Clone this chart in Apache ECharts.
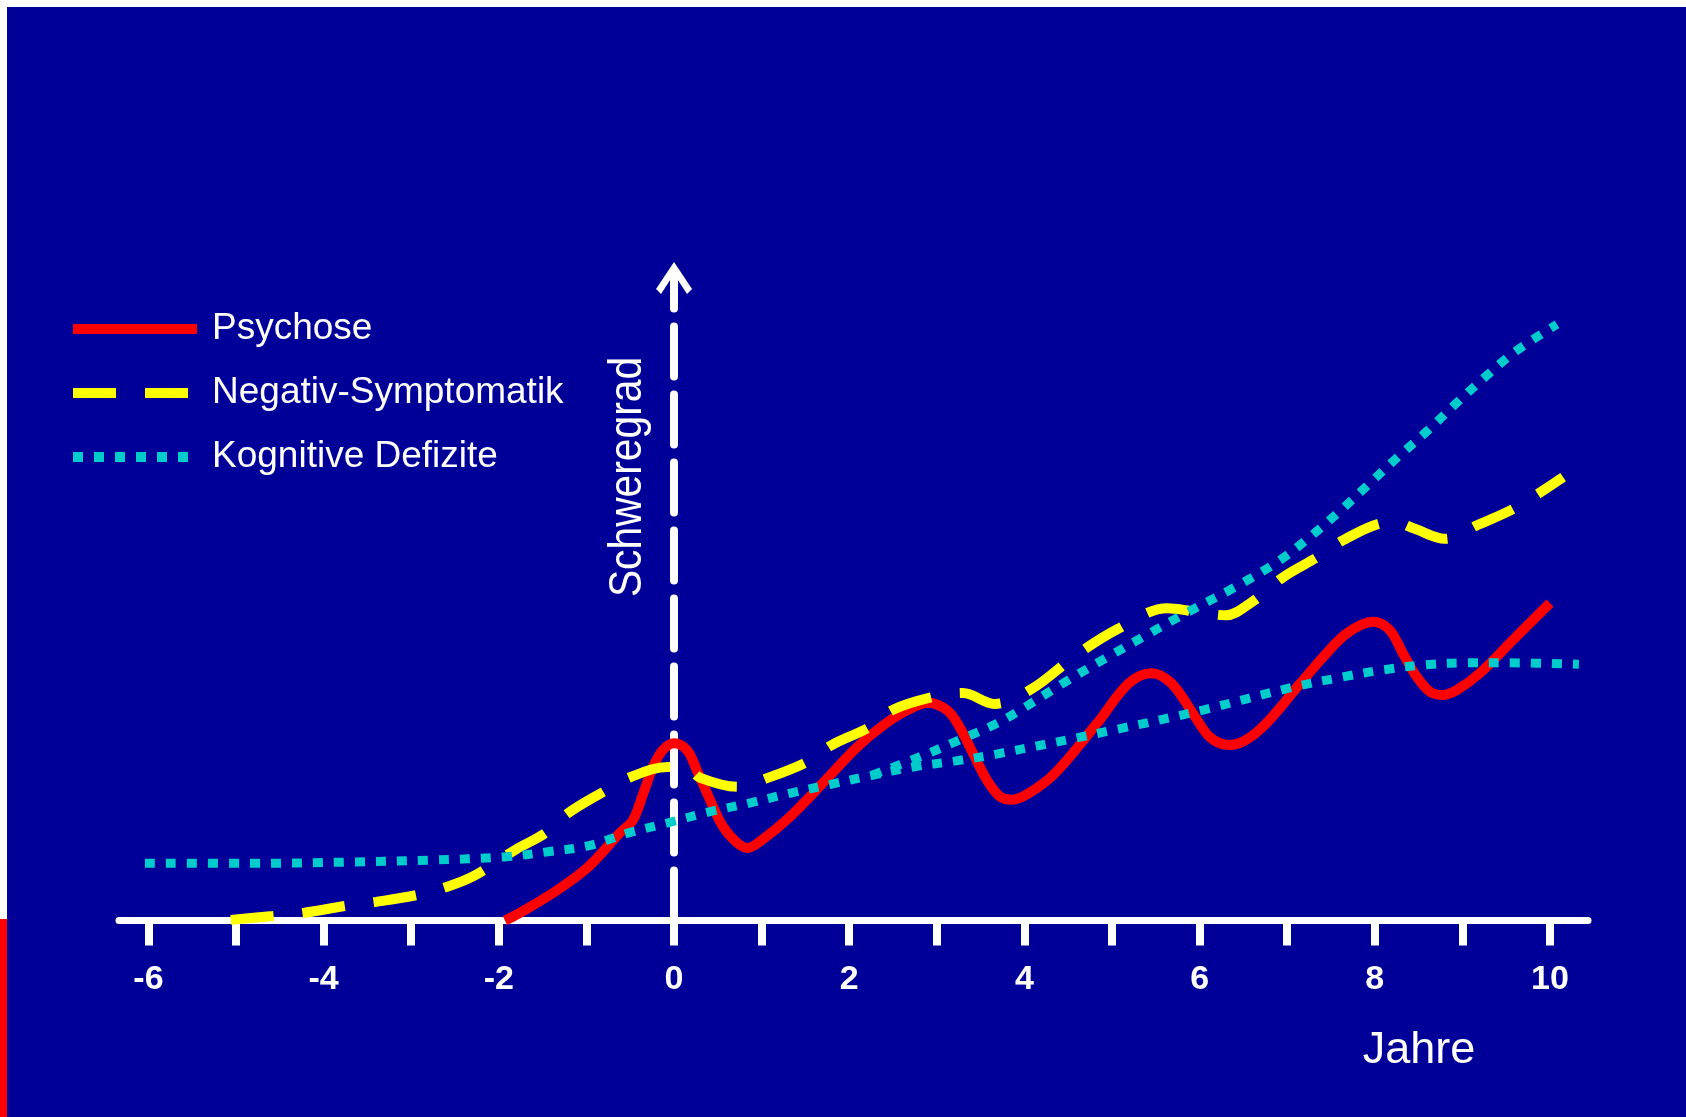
<!DOCTYPE html>
<html>
<head>
<meta charset="utf-8">
<script src="https://cdn.jsdelivr.net/npm/echarts@6/dist/echarts.min.js"></script>
<style>
  html, body { margin: 0; padding: 0; background: #ffffff; }
  #chart { width: 1686px; height: 1117px; }
</style>
</head>
<body>
<div id="chart"></div>
<script>
// Jahre relativ zum Beginn der ersten Psychose
const tickYears = [-6, -5, -4, -3, -2, -1, 0, 1, 2, 3, 4, 5, 6, 7, 8, 9, 10];
const labelYears = [-6, -4, -2, 0, 2, 4, 6, 8, 10];

// Schweregrad (relative Einheiten 0–100) über die Jahre
const psychose = [
  [-1.93, 0], [-1.76, 1.2], [-1.38, 4.3], [-0.99, 8.2], [-0.62, 13.6], [-0.47, 15.6],
  [-0.35, 19.8], [-0.24, 23.9], [-0.13, 26.5], [0, 27.6], [0.15, 26.5], [0.26, 23.4],
  [0.41, 18.8], [0.56, 14.6], [0.72, 12.1], [0.84, 11.3], [1.0, 12.5], [1.32, 16.1],
  [1.70, 21.4], [2.09, 27.0], [2.39, 30.4], [2.66, 32.7], [2.90, 33.9], [3.12, 32.7],
  [3.26, 30.1], [3.41, 26.1], [3.57, 21.9], [3.72, 19.3], [3.86, 18.8], [4.05, 19.8],
  [4.34, 22.8], [4.83, 30.7], [5.19, 36.9], [5.45, 38.5], [5.68, 36.9], [5.94, 31.9],
  [6.12, 28.5], [6.34, 27.3], [6.67, 29.5], [7.15, 36.9], [7.41, 41.0], [7.68, 44.7],
  [7.98, 46.5], [8.17, 45.2], [8.32, 41.6], [8.48, 37.9], [8.63, 35.6], [8.77, 35.1],
  [8.94, 35.9], [9.20, 38.5], [9.58, 43.7], [10.0, 49.4]
];

const negativSymptomatik = [
  [-5.06, 0.1], [-4.58, 0.7], [-4.22, 1.2], [-3.74, 2.3], [-3.40, 2.9], [-2.92, 4.0],
  [-2.60, 5.2], [-2.29, 6.9], [-1.80, 11.1], [-1.47, 13.6], [-1.21, 16.7], [-0.81, 20.0],
  [-0.50, 22.3], [-0.07, 23.9], [0.13, 23.9], [0.30, 22.2], [0.73, 20.8], [1.07, 22.2],
  [1.52, 24.7], [1.80, 27.3], [2.23, 30.1], [2.50, 32.8], [2.96, 34.8], [3.30, 35.4],
  [3.66, 33.7], [4.09, 36.1], [4.58, 41.2], [5.07, 45.4], [5.63, 48.6], [5.94, 48.1],
  [6.30, 47.5], [6.58, 49.4], [6.96, 53.5], [7.35, 56.6], [7.64, 59.2], [8.06, 61.8],
  [8.23, 62.0], [8.45, 61.0], [8.80, 59.4], [9.18, 61.6], [9.60, 64.2], [10.15, 69.0]
];

// Kognitive Defizite: gemeinsamer Verlauf, ab ca. 2 Jahren zwei Verläufe
const kognitivFlach = [
  [-6.04, 8.9], [-4.84, 8.9], [-3.70, 9.1], [-2.79, 9.4], [-1.93, 9.9], [-1.44, 10.7],
  [-0.98, 11.6], [-0.53, 13.6], [-0.07, 15.2], [0.40, 16.9], [0.87, 18.3], [1.32, 19.8],
  [1.79, 21.2], [2.26, 22.6], [2.73, 23.9], [3.20, 24.8], [3.68, 25.9], [5.07, 29.8],
  [6.05, 32.8], [7.03, 36.2], [7.63, 37.9], [8.09, 39.0], [8.57, 39.8], [9.05, 40.1],
  [9.52, 40.1], [10.33, 39.9]
];

const kognitivSteil = [
  [2.26, 22.6], [2.83, 25.6], [3.26, 28.1], [3.69, 30.7], [3.96, 32.8], [4.45, 37.0],
  [4.95, 41.0], [5.43, 44.7], [5.81, 47.6], [6.42, 52.0], [6.92, 56.1], [7.26, 59.7],
  [7.60, 63.7], [7.93, 67.9], [8.26, 72.1], [8.60, 76.2], [8.93, 80.5], [9.26, 84.6],
  [9.61, 88.6], [10.08, 92.8]
];

const BLUE = '#000099';
const RED = '#ff0000';
const YELLOW = '#ffff00';
const CYAN = '#00cccc';
const WHITE = '#ffffff';
const FONT = '"Liberation Sans", Arial, Helvetica, sans-serif';

const yellowDash = [43, 29];
const cyanDots = [10, 11];

const chart = echarts.init(document.getElementById('chart'), null, { renderer: 'canvas' });

chart.setOption({
  backgroundColor: BLUE,
  animation: false,
  textStyle: { fontFamily: FONT },
  grid: {
    left: 119,
    right: 98,
    top: 278,
    bottom: 196.5,
    containLabel: false,
    outerBoundsMode: 'none'
  },
  legend: {
    orient: 'vertical',
    left: 68,
    top: 310,
    padding: 0,
    itemWidth: 124,
    itemHeight: 10,
    itemGap: 26,
    selectedMode: false,
    textStyle: {
      color: WHITE,
      fontSize: 37,
      lineHeight: 38,
      fontFamily: FONT,
      padding: [0, 0, 0, 10]
    },
    data: [
      { name: 'Psychose', itemStyle: { opacity: 0 },
        lineStyle: { color: RED, width: 10, type: 'solid' } },
      { name: 'Negativ-Symptomatik', itemStyle: { opacity: 0 },
        lineStyle: { color: YELLOW, width: 10, type: yellowDash } },
      { name: 'Kognitive Defizite', itemStyle: { opacity: 0 },
        lineStyle: { color: CYAN, width: 10, type: cyanDots } }
    ]
  },
  xAxis: {
    type: 'value',
    min: -6.336,
    max: 10.434,
    axisLine: {
      show: true,
      onZero: false,
      lineStyle: { color: WHITE, width: 7 }
    },
    axisTick: {
      show: true,
      customValues: tickYears,
      length: 25,
      lineStyle: { color: WHITE, width: 8 }
    },
    axisLabel: {
      show: true,
      customValues: labelYears,
      margin: 42,
      color: WHITE,
      fontSize: 34,
      fontWeight: 'bold',
      fontFamily: FONT
    },
    splitLine: { show: false }
  },
  yAxis: {
    type: 'value',
    min: 0,
    max: 100,
    axisLine: {
      show: true,
      onZero: true,
      symbol: ['none', 'path://M18,0 L36,27 L31,32 L18,12 L5,32 L0,27 Z'],
      symbolSize: [36, 32],
      lineStyle: { color: WHITE, width: 8, type: [50, 18] }
    },
    axisTick: { show: false },
    axisLabel: { show: false },
    splitLine: { show: false }
  },
  graphic: [
    { type: 'rect', left: 0, top: 0, z: 100, silent: true,
      shape: { width: 1686, height: 7 }, style: { fill: WHITE } },
    { type: 'rect', left: 0, top: 0, z: 100, silent: true,
      shape: { width: 7, height: 919 }, style: { fill: WHITE } },
    { type: 'rect', left: 0, top: 919, z: 100, silent: true,
      shape: { width: 7, height: 198 }, style: { fill: RED } },
    { type: 'text', x: 628, y: 477, rotation: Math.PI / 2, scaleX: 0.886, silent: true,
      style: { text: 'Schweregrad', fill: WHITE, font: '46px ' + FONT,
               align: 'center', verticalAlign: 'middle' } },
    { type: 'text', x: 1419, y: 1051, silent: true,
      style: { text: 'Jahre', fill: WHITE, font: '45px ' + FONT,
               align: 'center', verticalAlign: 'middle' } }
  ],
  series: [
    {
      name: 'Psychose', type: 'line', data: psychose,
      smooth: 0.35, symbol: 'none', z: 3,
      lineStyle: { color: RED, width: 10 }
    },
    {
      name: 'Negativ-Symptomatik', type: 'line', data: negativSymptomatik,
      smooth: 0.35, symbol: 'none', z: 4,
      lineStyle: { color: YELLOW, width: 10, type: yellowDash }
    },
    {
      name: 'Kognitive Defizite', type: 'line', data: kognitivFlach,
      smooth: 0.35, symbol: 'none', z: 5,
      lineStyle: { color: CYAN, width: 9, type: cyanDots }
    },
    {
      name: 'Kognitive Defizite', type: 'line', data: kognitivSteil,
      smooth: 0.35, symbol: 'none', z: 5,
      lineStyle: { color: CYAN, width: 9, type: cyanDots }
    }
  ]
});
</script>
</body>
</html>
